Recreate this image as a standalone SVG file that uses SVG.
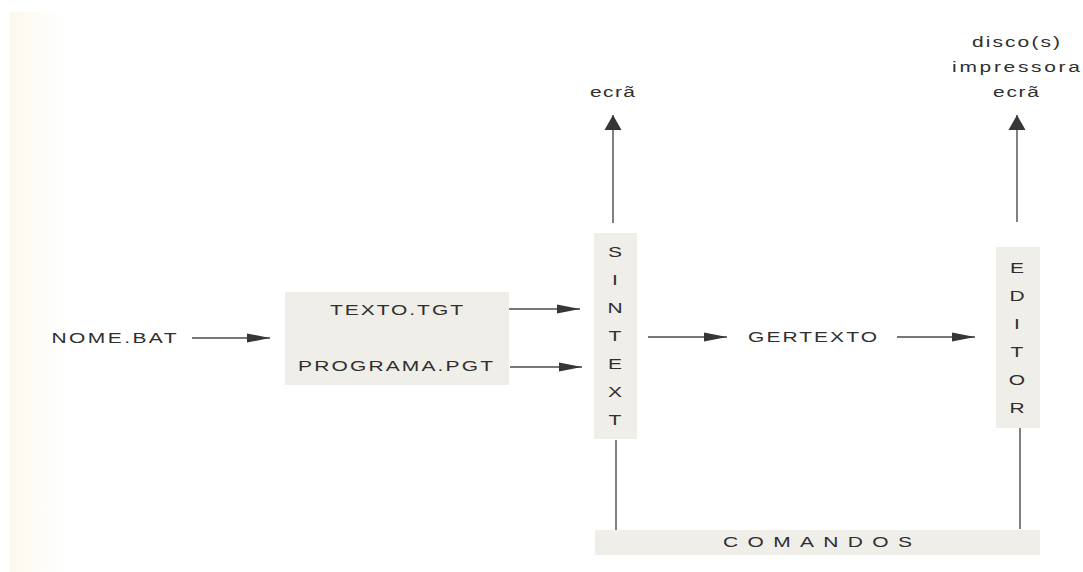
<svg xmlns="http://www.w3.org/2000/svg" width="1083" height="572" viewBox="0 0 1083 572">
  <style>
    .lbl { font-family: "Liberation Sans", Arial, sans-serif; font-size: 15px; fill: #2f2f2f; text-anchor: middle; }
    .box { fill: #efeee8; }
    .wire { stroke: #4a4a4a; stroke-width: 1.4; fill: none; }
  </style>
  <defs>
    <linearGradient id="edge" x1="0" y1="0" x2="1" y2="0">
      <stop offset="0" stop-color="#fcf8ee"/>
      <stop offset="1" stop-color="#ffffff"/>
    </linearGradient>
    <marker id="headH" markerUnits="userSpaceOnUse" markerWidth="23" markerHeight="10" refX="23" refY="5" orient="auto">
      <path d="M0,0.5 L23,5 L0,9.5 Z" fill="#363636"/>
    </marker>
    <marker id="headV" markerUnits="userSpaceOnUse" markerWidth="15" markerHeight="18" refX="15" refY="9" orient="auto">
      <path d="M0,0.5 L15,9 L0,17.5 Z" fill="#363636"/>
    </marker>
  </defs>

  <rect width="1083" height="572" fill="#ffffff"/>
  <rect x="10" y="12" width="55" height="560" fill="url(#edge)"/>

  <!-- labels use a wide face: glyphs stretched 1.4x horizontally -->
  <g id="nome-bat">
    <text class="lbl" transform="translate(114 343) scale(1.4 1)" textLength="89.3" lengthAdjust="spacing">NOME.BAT</text>
  </g>

  <g id="ficheiros">
    <rect class="box" x="285" y="292" width="224" height="93"/>
    <text class="lbl" transform="translate(396.5 315) scale(1.4 1)" textLength="95" lengthAdjust="spacing">TEXTO.TGT</text>
    <text class="lbl" transform="translate(395.5 371) scale(1.4 1)" textLength="139.3" lengthAdjust="spacing">PROGRAMA.PGT</text>
  </g>

  <g id="sintext">
    <rect class="box" x="594" y="233" width="43" height="206"/>
    <g transform="translate(615 0) scale(1.4 1)">
      <text class="lbl" x="0" y="257">S</text>
      <text class="lbl" x="0" y="285">I</text>
      <text class="lbl" x="0" y="313">N</text>
      <text class="lbl" x="0" y="341">T</text>
      <text class="lbl" x="0" y="369">E</text>
      <text class="lbl" x="0" y="397">X</text>
      <text class="lbl" x="0" y="425">T</text>
    </g>
  </g>

  <g id="gertexto">
    <text class="lbl" transform="translate(812.5 342) scale(1.4 1)" textLength="92.1" lengthAdjust="spacing">GERTEXTO</text>
  </g>

  <g id="editor">
    <rect class="box" x="996" y="247" width="44" height="181"/>
    <g transform="translate(1017 0) scale(1.4 1)">
      <text class="lbl" x="0" y="273">E</text>
      <text class="lbl" x="0" y="301">D</text>
      <text class="lbl" x="0" y="329">I</text>
      <text class="lbl" x="0" y="357">T</text>
      <text class="lbl" x="0" y="385">O</text>
      <text class="lbl" x="0" y="413">R</text>
    </g>
  </g>

  <g id="comandos">
    <rect class="box" x="595" y="530" width="445" height="25"/>
    <text class="lbl" transform="translate(817.5 547) scale(1.4 1)" textLength="135" lengthAdjust="spacing">COMANDOS</text>
  </g>

  <g id="saida-sintext">
    <text class="lbl" transform="translate(612.5 97) scale(1.4 1)" textLength="32.1" lengthAdjust="spacing">ecrã</text>
  </g>

  <g id="saida-editor">
    <text class="lbl" transform="translate(1016 47) scale(1.4 1)" textLength="62.9" lengthAdjust="spacing">disco(s)</text>
    <text class="lbl" transform="translate(1016 72) scale(1.4 1)" textLength="91.4" lengthAdjust="spacing">impressora</text>
    <text class="lbl" transform="translate(1016 97) scale(1.4 1)" textLength="32.9" lengthAdjust="spacing">ecrã</text>
  </g>

  <!-- connectors -->
  <g id="connectors">
    <line class="wire" x1="192" y1="338" x2="270" y2="338" marker-end="url(#headH)"/>
    <line class="wire" x1="509" y1="309" x2="580" y2="309" marker-end="url(#headH)"/>
    <line class="wire" x1="510" y1="367" x2="582" y2="367" marker-end="url(#headH)"/>
    <line class="wire" x1="648" y1="337" x2="727" y2="337" marker-end="url(#headH)"/>
    <line class="wire" x1="897" y1="337" x2="975" y2="337" marker-end="url(#headH)"/>
    <line class="wire" x1="613" y1="223" x2="613" y2="115" marker-end="url(#headV)"/>
    <line class="wire" x1="1017" y1="222" x2="1017" y2="115" marker-end="url(#headV)"/>
    <line class="wire" x1="616" y1="440" x2="616" y2="530"/>
    <line class="wire" x1="1020" y1="428" x2="1020" y2="529"/>
  </g>
</svg>
